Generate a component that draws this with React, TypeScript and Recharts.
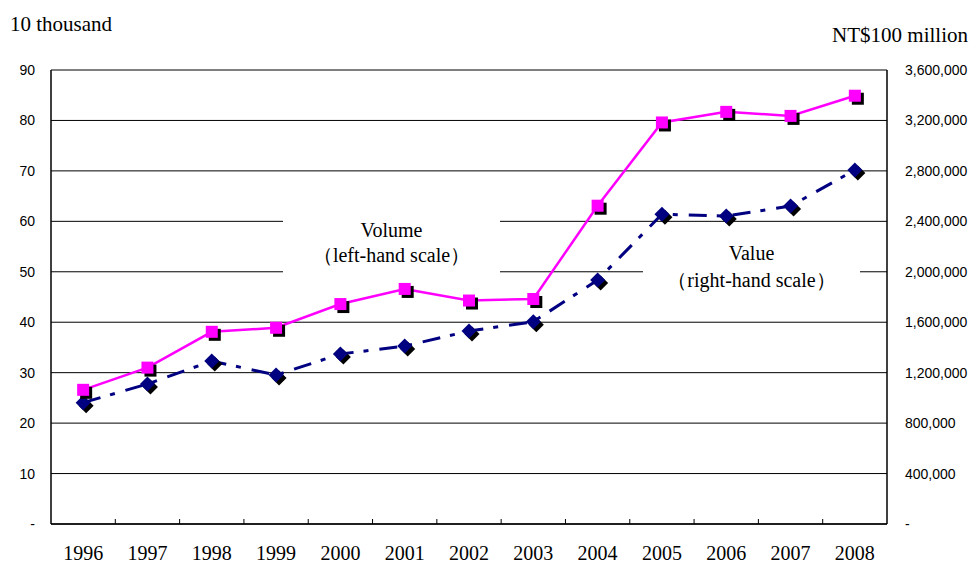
import { CartesianGrid, Line, LineChart, XAxis, YAxis } from 'recharts'

const years = ['1996', '1997', '1998', '1999', '2000', '2001', '2002', '2003', '2004', '2005', '2006', '2007', '2008']
// 10 thousand (left-hand scale)
const volume = [26.6, 31.0, 38.1, 38.9, 43.6, 46.6, 44.3, 44.6, 63.1, 79.6, 81.7, 80.9, 84.9]
// NT$100 million (right-hand scale)
const value = [962000, 1110000, 1292000, 1181000, 1348000, 1411000, 1530000, 1604000, 1935000, 2456000, 2442000, 2521000, 2807000]
const leftTicks = [0, 10, 20, 30, 40, 50, 60, 70, 80, 90]
const rightTicks = [0, 400000, 800000, 1200000, 1600000, 2000000, 2400000, 2800000, 3200000, 3600000]

const data = years.map((year, i) => ({ year, volume: volume[i], value: value[i] }))

const W = 971
const H = 563
const PLOT_LEFT = 51
const PLOT_RIGHT = 887
const BAND = (PLOT_RIGHT - PLOT_LEFT) / years.length

const SERIF = '"Liberation Serif", "Times New Roman", serif'
const SANS = '"Liberation Sans", Arial, sans-serif'

function SquareDot(props: any) {
  const { cx, cy } = props
  if (cx == null || cy == null) return null
  return (
    <g>
      <rect x={cx - 6 + 3} y={cy - 6 + 3} width={12} height={12} fill="#000" />
      <rect x={cx - 6} y={cy - 6} width={12} height={12} fill="#ff00ff" />
    </g>
  )
}

function DiamondDot(props: any) {
  const { cx, cy } = props
  if (cx == null || cy == null) return null
  const d = (x: number, y: number) => `M${x},${y - 7.5} L${x + 7.5},${y} L${x},${y + 7.5} L${x - 7.5},${y} Z`
  return (
    <g>
      <path d={d(cx + 3, cy + 3)} fill="#000" />
      <path d={d(cx, cy)} fill="#000080" />
    </g>
  )
}

function YearTick(props: any) {
  const { x, y, payload, index } = props
  return (
    <g>
      {index > 0 && <line x1={x - BAND / 2} x2={x - BAND / 2} y1={y} y2={y - 5} stroke="#000" strokeWidth={1} />}
      <text x={x} y={y + 36} textAnchor="middle" fontFamily={SERIF} fontSize={20} fill="#000">
        {payload.value}
      </text>
    </g>
  )
}

const boxStyle: React.CSSProperties = {
  position: 'absolute',
  background: '#fff',
  textAlign: 'center',
  fontFamily: SERIF,
  fontSize: 20,
  color: '#000',
}

export default function App() {
  return (
    <div style={{ position: 'absolute', left: 0, top: 0, width: W, height: H, background: '#fff' }}>
      <LineChart width={W} height={H} data={data} margin={{ top: 70, right: 0, bottom: 0, left: 0 }}>
        <CartesianGrid yAxisId="left" vertical={false} stroke="#000" strokeWidth={1} />
        <XAxis
          dataKey="year"
          interval={0}
          height={39}
          padding={{ left: BAND / 2, right: BAND / 2 }}
          tickLine={false}
          tickSize={0}
          tickMargin={0}
          axisLine={{ stroke: '#000', strokeWidth: 1.5 }}
          tick={<YearTick />}
        />
        <YAxis
          yAxisId="left"
          width={PLOT_LEFT}
          domain={[0, 90]}
          ticks={leftTicks}
          interval={0}
          tickLine={false}
          tickSize={0}
          tickMargin={16}
          axisLine={{ stroke: '#000', strokeWidth: 1.5 }}
          tick={{ fill: '#000', fontFamily: SANS, fontSize: 14 }}
          tickFormatter={(v: number) => (v === 0 ? '-' : String(v))}
        />
        <YAxis
          yAxisId="right"
          orientation="right"
          width={W - PLOT_RIGHT}
          domain={[0, 3600000]}
          ticks={rightTicks}
          interval={0}
          tickLine={false}
          tickSize={0}
          tickMargin={18}
          axisLine={{ stroke: '#000', strokeWidth: 1.5 }}
          tick={{ fill: '#000', fontFamily: SANS, fontSize: 14, textAnchor: 'start' }}
          tickFormatter={(v: number) => (v === 0 ? '-' : v.toLocaleString('en-US'))}
        />
        <Line
          yAxisId="right"
          dataKey="value"
          stroke="#000080"
          strokeWidth={3}
          strokeDasharray="18 10 5 11"
          dot={<DiamondDot />}
          activeDot={false}
          isAnimationActive={false}
        />
        <Line
          yAxisId="left"
          dataKey="volume"
          stroke="#ff00ff"
          strokeWidth={2.5}
          dot={<SquareDot />}
          activeDot={false}
          isAnimationActive={false}
        />
      </LineChart>

      <div style={{ position: 'absolute', left: 10, top: 14, fontFamily: SERIF, fontSize: 21, lineHeight: '21px' }}>10 thousand</div>
      <div style={{ position: 'absolute', right: 3, top: 25, fontFamily: SERIF, fontSize: 21, lineHeight: '21px' }}>NT$100 million</div>

      <div style={{ ...boxStyle, left: 283, top: 215, width: 217, height: 62, paddingTop: 3, lineHeight: '25px', boxSizing: 'border-box' }}>
        <div>Volume</div>
        <div>（left-hand scale）</div>
      </div>
      <div style={{ ...boxStyle, left: 643, top: 238, width: 217, height: 58, paddingTop: 2, lineHeight: '27px', boxSizing: 'border-box' }}>
        <div>Value</div>
        <div>（right-hand scale）</div>
      </div>
    </div>
  )
}
